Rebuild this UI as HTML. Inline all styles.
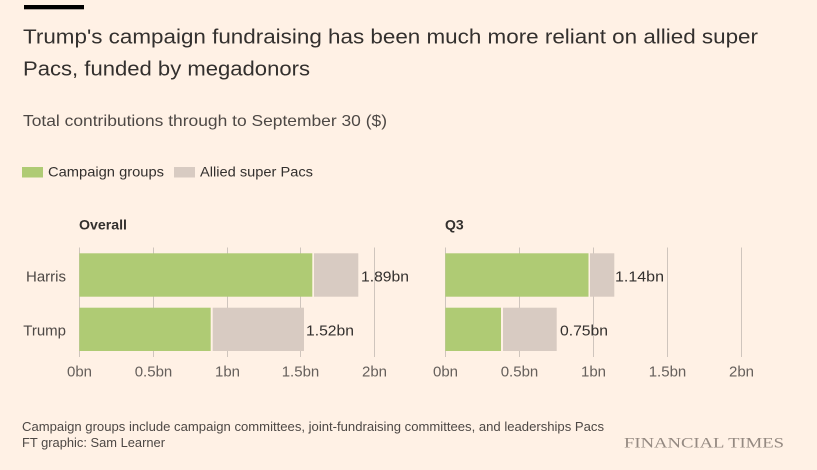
<!DOCTYPE html>
<html>
<head>
<meta charset="utf-8">
<style>
html,body{margin:0;padding:0;background:#fff1e5;}
svg{display:block;}
text{font-family:"Liberation Sans",sans-serif;fill:#33302e;}
</style>
</head>
<body>
<svg width="817" height="470" viewBox="0 0 817 470" xmlns="http://www.w3.org/2000/svg">
<rect x="0" y="0" width="817" height="470" fill="#fff1e5"/>
<rect x="24" y="5" width="60" height="4.3" fill="#000"/>

<text x="23" y="43.5" font-size="20.5" textLength="735" lengthAdjust="spacingAndGlyphs">Trump's campaign fundraising has been much more reliant on allied super</text>
<text x="23" y="75.5" font-size="20.5" textLength="287" lengthAdjust="spacingAndGlyphs">Pacs, funded by megadonors</text>

<text x="23" y="126" font-size="16" style="fill:#4d4845" textLength="364" lengthAdjust="spacingAndGlyphs">Total contributions through to September 30 ($)</text>

<rect x="22" y="167" width="21" height="10.5" fill="#afcb74"/>
<text x="48" y="176.5" font-size="14" textLength="116" lengthAdjust="spacingAndGlyphs">Campaign groups</text>
<rect x="174" y="167" width="21" height="10.5" fill="#d8cbc2"/>
<text x="200" y="176.5" font-size="14" textLength="113" lengthAdjust="spacingAndGlyphs">Allied super Pacs</text>

<!-- Overall panel -->
<text x="79" y="229.5" font-size="14" font-weight="bold" textLength="48" lengthAdjust="spacingAndGlyphs">Overall</text>
<g stroke="#cfc5bd" stroke-width="1">
<line x1="79.5" y1="247.5" x2="79.5" y2="357"/>
<line x1="153.5" y1="247.5" x2="153.5" y2="357"/>
<line x1="227.5" y1="247.5" x2="227.5" y2="357"/>
<line x1="300.5" y1="247.5" x2="300.5" y2="357"/>
<line x1="374.5" y1="247.5" x2="374.5" y2="357"/>
</g>
<rect x="79.3" y="253.3" width="233" height="43.4" fill="#afcb74"/>
<rect x="314" y="253.3" width="44.3" height="43.4" fill="#d8cbc2"/>
<rect x="79.3" y="307.7" width="131.4" height="43.3" fill="#afcb74"/>
<rect x="212.7" y="307.7" width="91.3" height="43.3" fill="#d8cbc2"/>

<text x="66" y="281.5" font-size="15" text-anchor="end" style="fill:#4d4845">Harris</text>
<text x="66" y="335.5" font-size="15" text-anchor="end" style="fill:#4d4845">Trump</text>

<text x="361" y="281.5" font-size="15" textLength="48" lengthAdjust="spacingAndGlyphs">1.89bn</text>
<text x="306" y="335.5" font-size="15" textLength="48" lengthAdjust="spacingAndGlyphs">1.52bn</text>

<g font-size="15" text-anchor="middle">
<text x="79.5" y="376.5" style="fill:#66605c">0bn</text>
<text x="153.5" y="376.5" style="fill:#66605c">0.5bn</text>
<text x="227.5" y="376.5" style="fill:#66605c">1bn</text>
<text x="300.5" y="376.5" style="fill:#66605c">1.5bn</text>
<text x="374.5" y="376.5" style="fill:#66605c">2bn</text>
</g>

<!-- Q3 panel -->
<text x="445" y="229.5" font-size="14" font-weight="bold">Q3</text>
<g stroke="#cfc5bd" stroke-width="1">
<line x1="445.5" y1="247.5" x2="445.5" y2="357"/>
<line x1="519.5" y1="247.5" x2="519.5" y2="357"/>
<line x1="593.5" y1="247.5" x2="593.5" y2="357"/>
<line x1="667.5" y1="247.5" x2="667.5" y2="357"/>
<line x1="741.5" y1="247.5" x2="741.5" y2="357"/>
</g>
<rect x="445.3" y="253.3" width="143.2" height="43.4" fill="#afcb74"/>
<rect x="590" y="253.3" width="24.3" height="43.4" fill="#d8cbc2"/>
<rect x="445.3" y="307.7" width="55.7" height="43.3" fill="#afcb74"/>
<rect x="503" y="307.7" width="53.7" height="43.3" fill="#d8cbc2"/>

<text x="615" y="281.5" font-size="15" textLength="49" lengthAdjust="spacingAndGlyphs">1.14bn</text>
<text x="560" y="335.5" font-size="15" textLength="48" lengthAdjust="spacingAndGlyphs">0.75bn</text>

<g font-size="15" text-anchor="middle">
<text x="445.5" y="376.5" style="fill:#66605c">0bn</text>
<text x="519.5" y="376.5" style="fill:#66605c">0.5bn</text>
<text x="593.5" y="376.5" style="fill:#66605c">1bn</text>
<text x="667.5" y="376.5" style="fill:#66605c">1.5bn</text>
<text x="741.5" y="376.5" style="fill:#66605c">2bn</text>
</g>

<!-- footer -->
<text x="22" y="431" font-size="13" style="fill:#4d4845" textLength="582" lengthAdjust="spacingAndGlyphs">Campaign groups include campaign committees, joint-fundraising committees, and leaderships Pacs</text>
<text x="22" y="447" font-size="13" style="fill:#4d4845" textLength="143" lengthAdjust="spacingAndGlyphs">FT graphic: Sam Learner</text>
<text x="624" y="447.5" font-size="15" style="font-family:'Liberation Serif',serif;fill:#948981" textLength="160" lengthAdjust="spacingAndGlyphs">FINANCIAL TIMES</text>
</svg>
</body>
</html>
